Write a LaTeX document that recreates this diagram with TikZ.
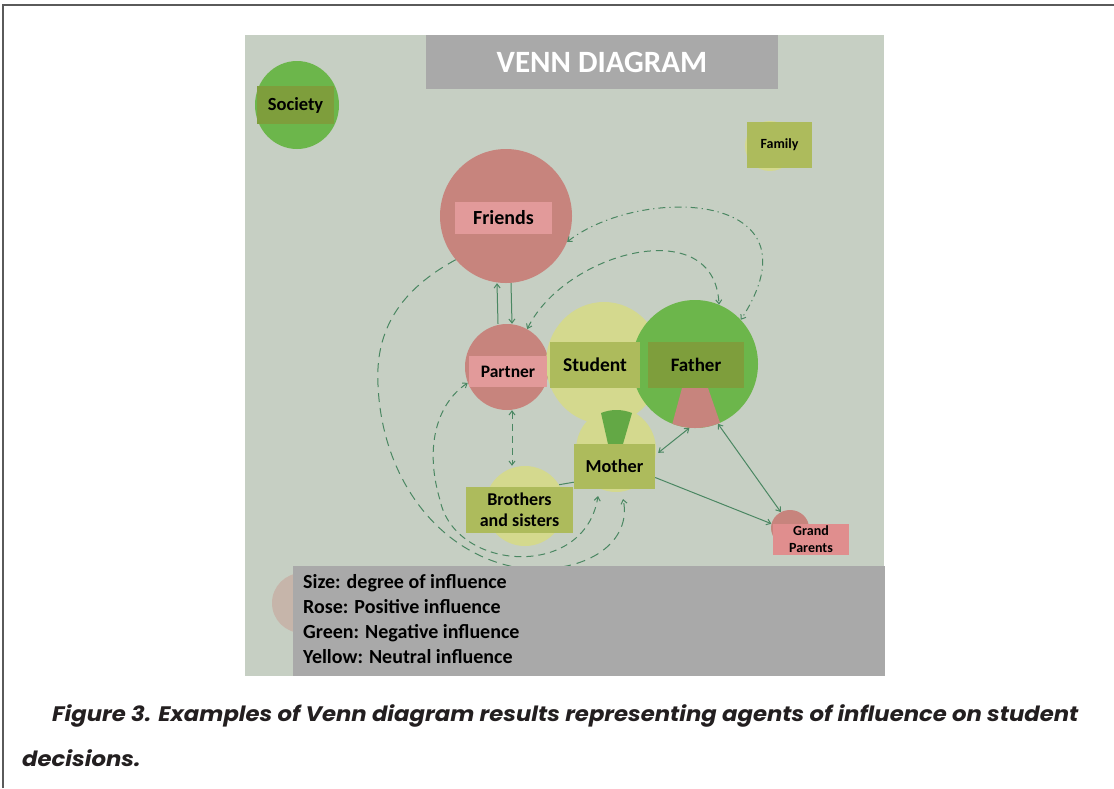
\documentclass[tikz,border=0pt]{standalone}
\usepackage{fontspec}
\setmainfont{Carlito}
\newfontfamily\capfont{Poppins}
\usetikzlibrary{arrows.meta,shapes.geometric,calc}
\definecolor{photo}{HTML}{C6CFC3}
\definecolor{gcirc}{HTML}{6CB64B}
\definecolor{glbl}{HTML}{7E9E3C}
\definecolor{rcirc}{HTML}{C7847D}
\definecolor{rlbl}{HTML}{E29A9A}
\definecolor{rlbltwo}{HTML}{E08E8E}
\definecolor{ycirc}{HTML}{D4D98E}
\definecolor{ylbl}{HTML}{ADBB5C}
\definecolor{boxgray}{HTML}{A9A9A9}
\definecolor{penline}{HTML}{4A8762}
\definecolor{framegray}{HTML}{5A5A5A}
\definecolor{captext}{HTML}{231F20}
\begin{document}
\begin{tikzpicture}[x=1pt,y=-1pt,
  blob/.style={ellipse,inner sep=0pt,draw=none},
  lbl/.style={rectangle,inner sep=0pt,align=center,font=\bfseries\fontsize{19}{22}\selectfont},
  sline/.style={draw=penline,line width=1pt},
  dline/.style={draw=penline,line width=1pt,dash pattern=on 7pt off 5pt},
  ddline/.style={draw=penline,line width=1pt,dash pattern=on 7pt off 4pt on 1.2pt off 4pt},
  capstyle/.style={anchor=base west,inner sep=0pt,text=captext,font=\capfont\bfseries\itshape\fontsize{21}{24}\selectfont},
  >={Straight Barb[length=4pt,width=6pt]}]
\useasboundingbox (0,0) rectangle (1114,788);
\fill[white] (0,0) rectangle (1114,788);
% frame
\draw[framegray,line width=1.4pt] (3,788) -- (3,5) -- (1114,5);
% photo
\fill[photo] (245,35) rectangle (884,676);
% circles
\node[blob,fill=gcirc,minimum width=84pt,minimum height=88pt] (societyC) at (297,105) {};
\node[blob,fill=ycirc,minimum width=50pt,minimum height=50pt] (familyC) at (770,146) {};
\node[blob,fill=rcirc,minimum width=132pt,minimum height=134pt] (friendsC) at (506,216) {};
\node[blob,fill=rcirc,minimum width=84pt,minimum height=86pt] (partnerC) at (507,367) {};
\node[blob,fill=ycirc,minimum width=116pt,minimum height=122pt] (studentC) at (604,363) {};
\node[blob,fill=ycirc,minimum width=80pt,minimum height=84pt] (motherC) at (616,450) {};
\node[blob,fill=ycirc,minimum width=80pt,minimum height=80pt] (brothersC) at (525,506) {};
\node[blob,fill=gcirc,minimum width=126pt,minimum height=128pt] (fatherC) at (695,364) {};
\node[blob,fill=rcirc,minimum width=38pt,minimum height=36pt] (grandC) at (790,528) {};
\node[blob,fill=rcirc!35!photo,minimum width=60pt,minimum height=60pt] (extraC) at (302,603) {};
% wedges
\begin{scope}
\clip (695,364) ellipse [x radius=63pt,y radius=64pt];
\fill[rcirc] (682,388) -- (708,388) -- (726,440) -- (668,440) -- cycle;
\end{scope}
\fill[gcirc!92!black] (601,413) .. controls (611,409) and (622,409) .. (632,413) -- (623,444) -- (608,444) -- cycle;
% labels
\node[lbl,fill=boxgray,text=white,minimum width=352pt,minimum height=54pt,font=\bfseries\fontsize{31}{33}\selectfont] (title) at (602,62) {VENN DIAGRAM};
\node[lbl,fill=glbl,minimum width=77pt,minimum height=38pt,font=\bfseries\fontsize{18.5}{21}\selectfont] (society) at (295.5,105) {Society};
\node[lbl,fill=ylbl,minimum width=65pt,minimum height=46pt,font=\bfseries\fontsize{14}{16}\selectfont] (family) at (779.5,145) {Family};
\node[lbl,fill=rlbl,minimum width=97pt,minimum height=32pt,font=\bfseries\fontsize{20}{22}\selectfont] (friends) at (503.5,218) {Friends};
\node[lbl,fill=rlbl,minimum width=78pt,minimum height=31pt,font=\bfseries\fontsize{17.5}{20}\selectfont] (partner) at (508,371.5) {Partner};
\node[lbl,fill=ylbl,minimum width=90pt,minimum height=46pt,font=\bfseries\fontsize{19.5}{22}\selectfont] (student) at (595,365) {Student};
\node[lbl,fill=glbl,minimum width=96pt,minimum height=46pt] (father) at (696,365) {Father};
\node[lbl,fill=ylbl,minimum width=81pt,minimum height=45pt,font=\bfseries\fontsize{18.3}{21}\selectfont] (mother) at (614.5,466.5) {Mother};
\node[lbl,fill=ylbl,minimum width=107pt,minimum height=46pt,font=\bfseries\fontsize{18}{21}\selectfont] (brothers) at (519.5,510) {Brothers\\and sisters};
\node[lbl,fill=rlbltwo,minimum width=76pt,minimum height=31pt,font=\bfseries\fontsize{14}{17}\selectfont] (grand) at (811,539.5) {Grand\\Parents};
% connectors
\draw[sline,->] ([xshift=-9pt]partnerC.north) -- ([xshift=-9pt]friendsC.south);
\draw[sline,->] ([xshift=5pt]friendsC.south) -- ([xshift=5pt]partnerC.north);
\draw[dline,<->] ([xshift=5pt]partnerC.south) -- ([xshift=5pt]partnerC.south |- brothersC.north);
\draw[dline,<->] (partnerC.62) .. controls (565,252) and (715,212) .. (fatherC.68);
\draw[ddline,<->] (friendsC.-23) .. controls (640,185) and (825,190) .. (fatherC.44);
\coordinate (mo1) at (598,496);
\coordinate (mo2) at (623,499);
\draw[dline,dash pattern=on 9pt off 6pt,->] (friendsC.221) .. controls (400,290) and (375,330) .. (378,385)
  .. controls (382,480) and (440,555) .. (520,568) .. controls (590,575) and (632,540) .. (mo2);
\draw[dline,<->] (partnerC.202) .. controls (435,405) and (425,450) .. (440,500)
  .. controls (455,572) and (585,580) .. (mo1);
\draw[sline] (brothersC.32) -- ([yshift=7pt]mother.south west);
\draw[sline,<->] ([xshift=3pt,yshift=-9pt]mother.north east) -- (fatherC.265);
\draw[sline,<->] (fatherC.291) -- (grandC.120);
\draw[sline,->] ([yshift=-11pt]mother.east) -- (grandC.167);
% legend
\node[rectangle,fill=boxgray,minimum width=592pt,minimum height=110pt,inner sep=0pt,anchor=north west] (legendbox) at (293,566) {};
\node[anchor=north west,align=left,inner sep=0pt,font=\bfseries\fontsize{20}{25}\selectfont] (legend) at (303,574) {Size: degree of influence\\Rose: Positive influence\\Green: Negative influence\\Yellow: Neutral influence};
% caption
\node[capstyle] (cap1) at (52,721) {\scalebox{1.083}[1]{Figure 3. Examples of Venn diagram results representing agents of influence on student}};
\node[capstyle] (cap2) at (22,766) {\scalebox{1.083}[1]{decisions.}};
\end{tikzpicture}
\end{document}
